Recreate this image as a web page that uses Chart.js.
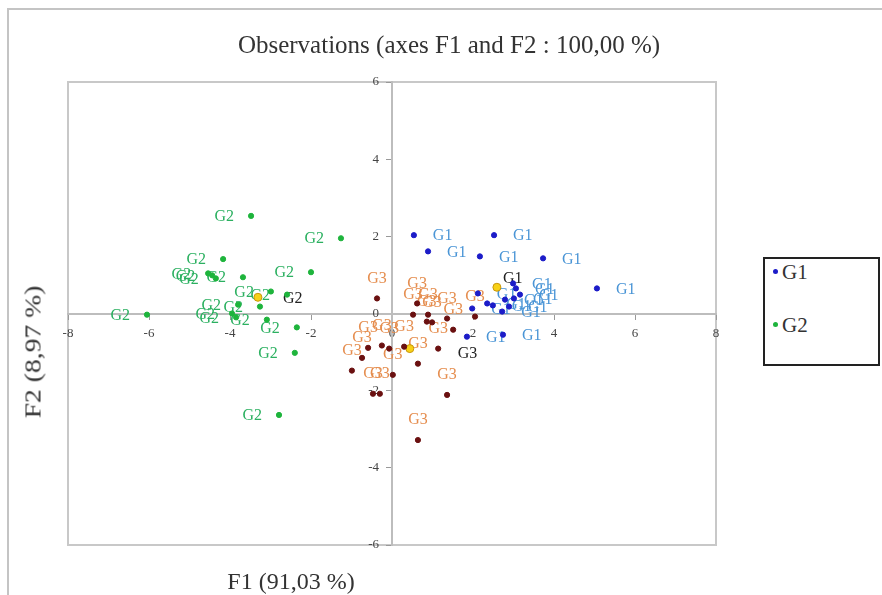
<!DOCTYPE html>
<html>
<head>
<meta charset="utf-8">
<script src="https://cdn.jsdelivr.net/npm/chart.js@4.4.0/dist/chart.umd.min.js"></script>
<style>
html, body { margin: 0; padding: 0; background: #fff; }
#wrap { position: relative; width: 882px; height: 595px; overflow: hidden; font-family: "Liberation Serif", "DejaVu Serif", serif; color: #333; }
#frame { position: absolute; left: 7px; top: 8px; width: 890px; height: 600px; border-top: 2px solid #c4c4c4; border-left: 2px solid #c4c4c4; }
#chart { position: absolute; left: 0; top: 0; }
#title { position: absolute; left: 449px; top: 30px; line-height: 29px; transform: translateX(-50%); font-size: 25px; white-space: nowrap; }
#xTitle { position: absolute; left: 291px; top: 568px; transform: translateX(-50%); font-size: 24px; white-space: nowrap; }
#yTitle { position: absolute; left: 33px; top: 352px; transform: translate(-50%, -50%) rotate(-90deg) scaleX(1.15); font-size: 24px; white-space: nowrap; }
#legend { position: absolute; left: 763px; top: 257px; width: 113px; height: 105px; border: 2px solid #222; background: #fff; }
#legend .item { position: absolute; left: 8px; font-size: 21px; white-space: nowrap; }
#legend .dot { display: inline-block; width: 5px; height: 5px; border-radius: 50%; margin-right: 4px; vertical-align: middle; position: relative; top: -3px; }
</style>
</head>
<body>
<div id="wrap">
	<div id="frame"></div>
	<canvas id="chart" width="882" height="595"></canvas>
	<div id="title">Observations (axes F1 and F2 : 100,00 %)</div>
	<div id="xTitle">F1 (91,03 %)</div>
	<div id="yTitle">F2 (8,97 %)</div>
	<div id="legend">
		<div class="item" style="top:1px"><span class="dot" style="background:#1c1cc8"></span>G1</div>
		<div class="item" style="top:54px"><span class="dot" style="background:#1eb43c"></span>G2</div>
	</div>
</div>
<script>
// observations (F1, F2)
var g1F1 = [0.54, 0.89, 2.52, 2.17, 3.73, 5.06, 2.99, 3.06, 3.16, 3.01, 2.35, 2.49, 2.12, 1.98, 1.85, 2.74, 2.79, 2.89, 2.72];
var g1F2 = [2.03, 1.61, 2.03, 1.48, 1.43, 0.65, 0.78, 0.65, 0.49, 0.39, 0.26, 0.21, 0.52, 0.13, -0.60, -0.55, 0.36, 0.18, 0.05];

var g2F1 = [-3.48, -1.26, -4.17, -4.44, -4.54, -4.35, -3.68, -2.00, -2.99, -2.59, -3.26, -3.80, -3.95, -3.85, -6.05, -3.09, -2.35, -2.40, -2.79];
var g2F2 = [2.53, 1.95, 1.41, 0.99, 1.04, 0.91, 0.94, 1.07, 0.57, 0.49, 0.18, 0.23, 0.00, -0.10, -0.03, -0.16, -0.36, -1.02, -2.63];

var g3F1 = [-0.37, 0.62, 0.86, 0.99, 1.36, 1.51, 2.05, -0.59, -0.07, 0.30, 1.14, 0.64, -0.99, 0.02, -0.47, -0.30, 1.36, 0.64, 0.52, 0.89, -0.25, -0.74];
var g3F2 = [0.39, 0.26, -0.21, -0.23, -0.13, -0.42, -0.08, -0.89, -0.91, -0.86, -0.91, -1.30, -1.48, -1.59, -2.08, -2.08, -2.11, -3.28, -0.03, -0.03, -0.83, -1.15];

// class centroids
var centroidNames = ['G1', 'G2', 'G3'];
var centroidF1 = [2.59, -3.31, 0.44];
var centroidF2 = [0.68, 0.42, -0.91];

var xTicks = [-8, -6, -4, -2, 0, 2, 4, 6, 8];
var yTicks = [-6, -4, -2, 0, 2, 4, 6];

function pts(xs, ys){ return xs.map(function(x, i){ return {x: x, y: ys[i]}; }); }

var SERIF = '"Liberation Serif", "DejaVu Serif", serif';
// label placement for the centroid names (black text)
var centroidLabelShift = [[6, -8], [25, 2], [48, 5]];

var pointLabels = {
	id: 'pointLabels',
	beforeDatasetsDraw: function(chart){
		var ctx = chart.ctx;
		ctx.save();
		ctx.font = '16px ' + SERIF;
		ctx.textBaseline = 'middle';
		chart.data.datasets.forEach(function(ds, i){
			var meta = chart.getDatasetMeta(i);
			meta.data.forEach(function(el, j){
				var txt = ds.names ? ds.names[j] : ds.label;
				ctx.fillStyle = ds.labelColor;
				if (ds.labelSide == 'right') {
					ctx.textAlign = 'left'; ctx.fillText(txt, el.x + 19, el.y + 1);
				} else if (ds.labelSide == 'left') {
					ctx.textAlign = 'right'; ctx.fillText(txt, el.x - 17, el.y + 1);
				} else if (ds.labelSide == 'above') {
					ctx.textAlign = 'center'; ctx.fillText(txt, el.x, el.y - 20);
				} else {
					var s = centroidLabelShift[j];
					ctx.textAlign = 'left'; ctx.fillText(txt, el.x + s[0], el.y + s[1]);
				}
			});
		});
		ctx.restore();
	},
	beforeDraw: function(chart){
		var a = chart.chartArea, ctx = chart.ctx;
		ctx.save();
		ctx.strokeStyle = '#c8c8c8';
		ctx.lineWidth = 2;
		ctx.strokeRect(a.left, a.top, a.right - a.left, a.bottom - a.top);
		ctx.restore();
	}
};

new Chart(document.getElementById('chart'), {
	type: 'scatter',
	data: {
		datasets: [
			{ label: 'G3', data: pts(g3F1, g3F2), pointRadius: 2.6, backgroundColor: '#6a1010', borderColor: '#6a1010', labelColor: '#e58d4e', labelSide: 'above' },
			{ label: 'G2', data: pts(g2F1, g2F2), pointRadius: 2.6, backgroundColor: '#1eb43c', borderColor: '#1eb43c', labelColor: '#2bb060', labelSide: 'left' },
			{ label: 'G1', data: pts(g1F1, g1F2), pointRadius: 2.6, backgroundColor: '#1c1cc8', borderColor: '#1c1cc8', labelColor: '#4a95d6', labelSide: 'right' },
			{ label: 'Centroids', names: centroidNames, data: pts(centroidF1, centroidF2), pointRadius: 4, borderWidth: 1, backgroundColor: '#f7d117', borderColor: '#c8960c', labelColor: '#222', labelSide: 'centroid' }
		]
	},
	options: {
		responsive: false,
		animation: false,
		layout: { padding: { left: 68, right: 166, top: 82, bottom: 50 } },
		plugins: {
			legend: { display: false },
			tooltip: { enabled: false },
			title: { display: false }
		},
		scales: {
			x: {
				type: 'linear', min: -8, max: 8,
				position: { y: 0 },
				afterBuildTicks: function(s){ s.ticks = xTicks.map(function(v){ return {value: v}; }); },
				border: { display: true, color: '#bdbdbd', width: 2 },
				grid: { drawOnChartArea: false, drawTicks: true, tickLength: 5, color: '#999' },
				ticks: { color: '#444', padding: 7, font: { family: SERIF, size: 13 }, maxRotation: 0 }
			},
			y: {
				type: 'linear', min: -6, max: 6,
				position: { x: 0 },
				afterBuildTicks: function(s){ s.ticks = yTicks.map(function(v){ return {value: v}; }); },
				border: { display: true, color: '#bdbdbd', width: 2 },
				grid: { drawOnChartArea: false, drawTicks: true, tickLength: 5, color: '#999' },
				ticks: {
					color: '#444', font: { family: SERIF, size: 13 },
					// labels sit a little left of the axis line
					callback: function(v){ return v + '\u2002\u2002'; }
				}
			}
		}
	},
	plugins: [pointLabels]
});
</script>
</body>
</html>
